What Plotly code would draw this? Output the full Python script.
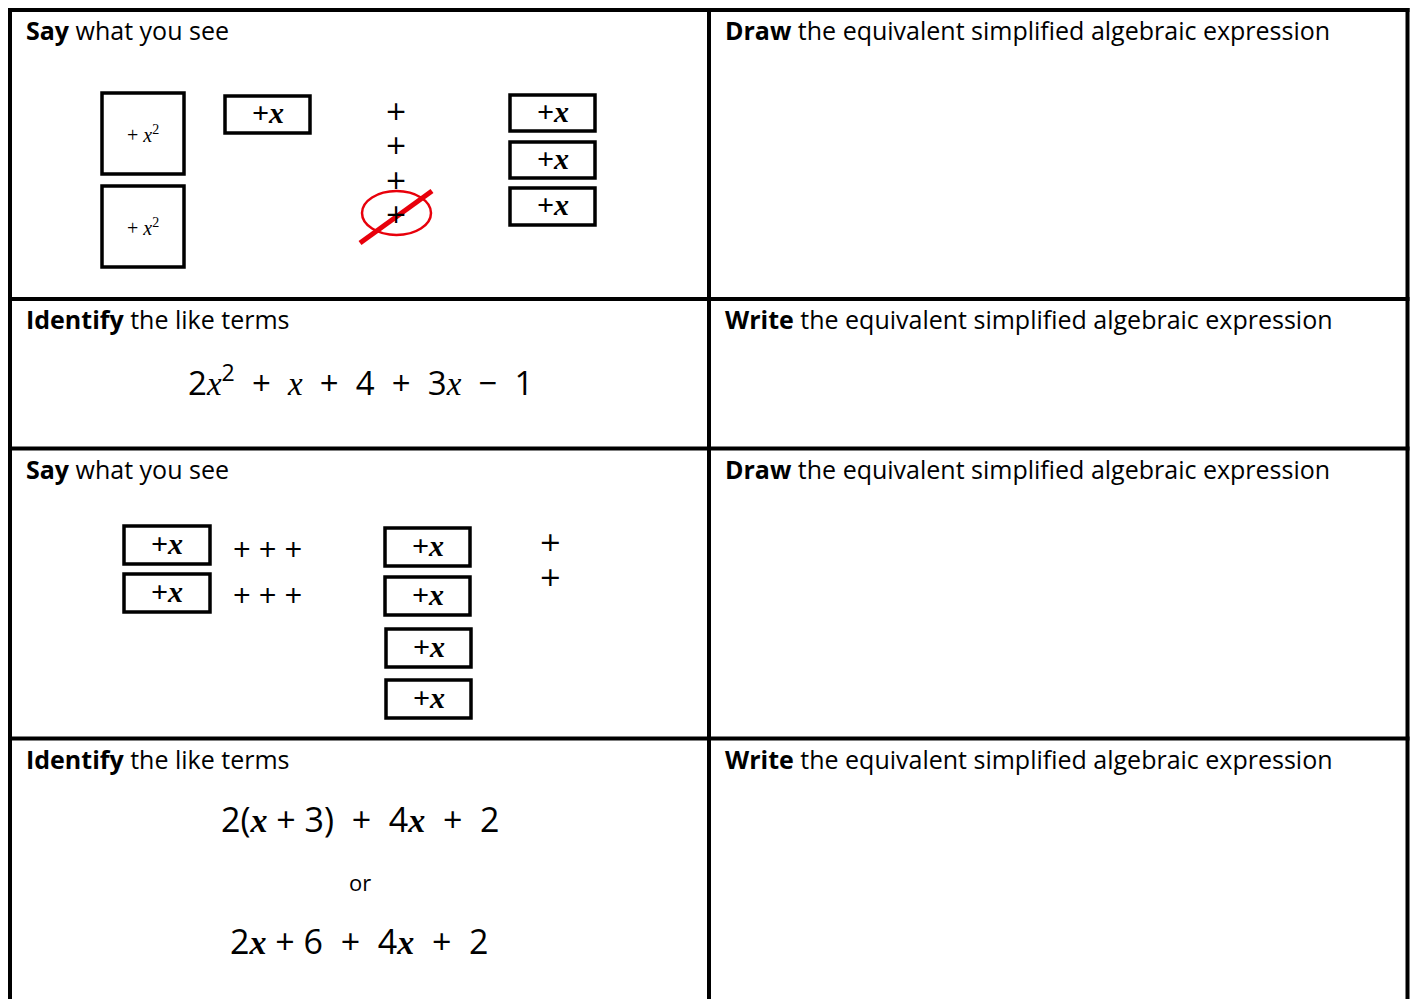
import plotly.graph_objects as go

W, H = 1411, 999

# ---- content data ----
header_left = ["<b>Say</b> what you see", "<b>Identify</b> the like terms",
               "<b>Say</b> what you see", "<b>Identify</b> the like terms"]
header_right = ["<b>Draw</b> the equivalent simplified algebraic expression",
                "<b>Write</b> the equivalent simplified algebraic expression",
                "<b>Draw</b> the equivalent simplified algebraic expression",
                "<b>Write</b> the equivalent simplified algebraic expression"]
row_lines = [10, 299, 448.5, 738.5]
col_lines = [10, 709, 1407.5]

SERIF = "Liberation Serif"
NB = "\u00a0"

def xi(bold=False):
    s = "<i>x</i>"
    if bold:
        s = "<b><i>x</i></b>"
    return '<span style="font-family:%s">%s</span>' % (SERIF, s)

eq1 = ("2" + xi() + "<sup>2</sup>" + NB*2 + "+" + NB*2 + xi() + NB*2 + "+" + NB*2 + "4"
       + NB*2 + "+" + NB*2 + "3" + xi() + NB*2 + "\u2212" + NB*2 + "1")
eq2a = ("2(" + xi(True) + " + 3)" + NB*2 + "+" + NB*2 + "4" + xi(True) + NB*2 + "+" + NB*2 + "2")
eq2b = ("2" + xi(True) + " + 6" + NB*2 + "+" + NB*2 + "4" + xi(True) + NB*2 + "+" + NB*2 + "2")

sq_label = "+ <i>x</i><sup>2</sup>"
x_label = "<b>+<i>x</i></b>"

# tiles: (x0, y0, x1, y1)
squares1 = [(102, 93, 184, 174), (102, 186, 184, 267)]
xtiles1 = [(225, 96, 310, 133), (510, 95, 595, 131), (510, 142, 595, 178), (510, 188, 595, 225)]
plus1_count = 4
xtiles3 = [(124, 526, 210, 564), (124, 574, 210, 612), (385, 528, 470, 566),
           (385, 577, 470, 615), (386, 629, 471, 667), (386, 680, 471, 718)]
plus3_rows = [(267, 549), (267, 595)]
plus3_count = 2

fig = go.Figure()
shapes = []
ann = []

LINE = dict(color="black", width=4)
for y in row_lines:
    shapes.append(dict(type="line", x0=col_lines[0] - 2, x1=col_lines[-1] + 2, y0=y, y1=y, line=LINE))
for x in col_lines:
    shapes.append(dict(type="line", x0=x, x1=x, y0=row_lines[0] - 2, y1=H + 20, line=LINE))

HFONT = dict(family="Open Sans, Liberation Sans", size=25, color="black")
for i, y in enumerate(row_lines):
    ann.append(dict(x=24, y=y + 20, text=header_left[i], xanchor="left", yanchor="middle",
                    showarrow=False, font=HFONT))
    ann.append(dict(x=723, y=y + 20, text=header_right[i], xanchor="left", yanchor="middle",
                    showarrow=False, font=HFONT))

TILE = dict(color="black", width=3.5)
for (x0, y0, x1, y1) in squares1:
    shapes.append(dict(type="rect", x0=x0, y0=y0, x1=x1, y1=y1, line=TILE))
    ann.append(dict(x=(x0 + x1) / 2, y=(y0 + y1) / 2, text=sq_label, showarrow=False,
                    font=dict(family=SERIF, size=20, color="black")))
for (x0, y0, x1, y1) in xtiles1 + xtiles3:
    shapes.append(dict(type="rect", x0=x0, y0=y0, x1=x1, y1=y1, line=TILE))
    ann.append(dict(x=(x0 + x1) / 2, y=(y0 + y1) / 2 - 2, text=x_label, showarrow=False,
                    font=dict(family=SERIF, size=30, color="black")))

# stacked plus signs
ann.append(dict(x=396, y=161.5, text="<br>".join(["+"] * plus1_count), showarrow=False,
                font=dict(family="DejaVu Sans", size=26.4, color="black")))
ann.append(dict(x=550, y=559, text="<br>".join(["+"] * plus3_count), showarrow=False,
                font=dict(family="DejaVu Sans", size=27, color="black")))
for (x, y) in plus3_rows:
    ann.append(dict(x=x, y=y, text="+" + NB + "+" + NB + "+", showarrow=False,
                    font=dict(family="Open Sans, Liberation Sans", size=31, color="black")))

# red cancel mark
shapes.append(dict(type="circle", x0=362, x1=431, y0=191, y1=235, line=dict(color="#e8000b", width=2.5)))
shapes.append(dict(type="line", x0=360, y0=243, x1=432, y1=191, line=dict(color="#e8000b", width=5)))

ann.append(dict(x=360, y=380, text=eq1, showarrow=False,
                font=dict(family="Open Sans, Liberation Sans", size=33, color="black")))
E2 = dict(family="Open Sans, Liberation Sans", size=34, color="black")
ann.append(dict(x=360, y=819, text=eq2a, showarrow=False, font=E2))
ann.append(dict(x=360, y=882, text="or", showarrow=False,
                font=dict(family="Open Sans, Liberation Sans", size=22, color="black")))
ann.append(dict(x=359, y=941, text=eq2b, showarrow=False, font=E2))

fig.update_layout(
    width=W, height=H, margin=dict(l=0, r=0, t=0, b=0),
    paper_bgcolor="white", plot_bgcolor="white",
    xaxis=dict(range=[0, W], visible=False, fixedrange=True),
    yaxis=dict(range=[H, 0], visible=False, fixedrange=True),
    shapes=shapes, annotations=ann, showlegend=False,
)
fig.write_html("out.html", config={"displayModeBar": False},
               post_script="document.body.style.margin='0';document.body.style.overflow='hidden';")
